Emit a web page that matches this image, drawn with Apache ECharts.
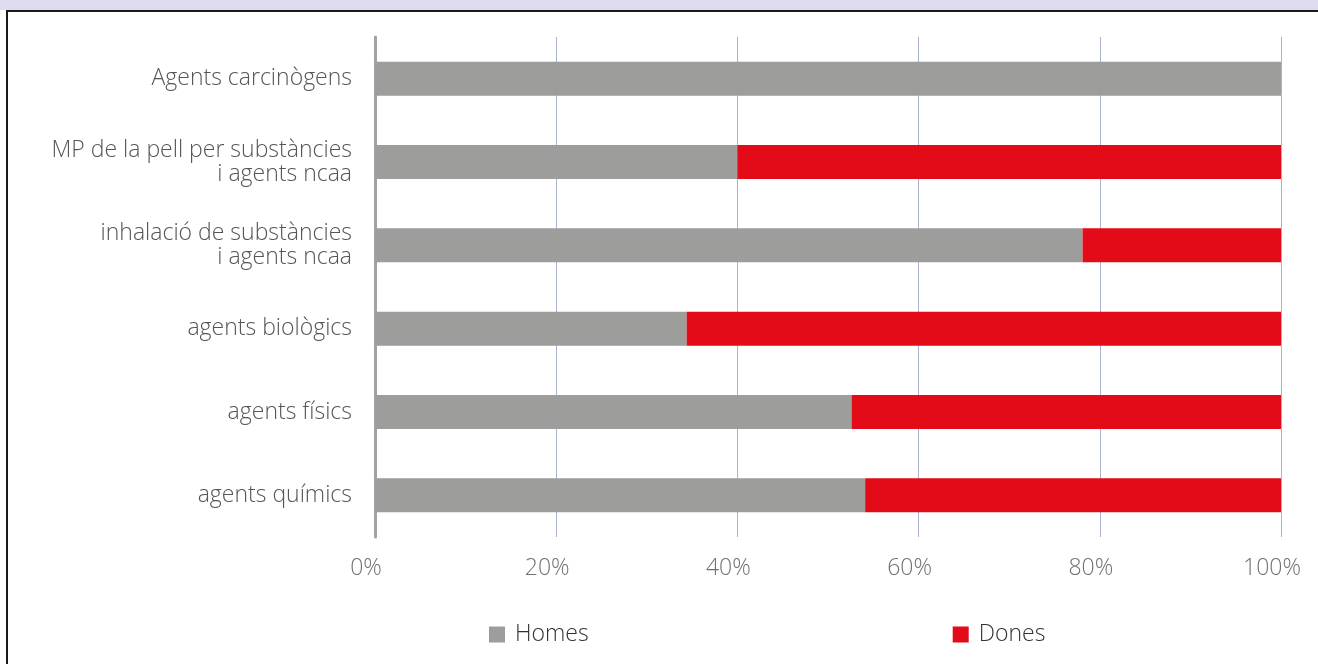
<!DOCTYPE html>
<html>
<head>
<meta charset="utf-8">
<script src="https://cdn.jsdelivr.net/npm/echarts@6/dist/echarts.min.js"></script>
<style>
  html, body { margin: 0; padding: 0; background: #ffffff; }
  #band { position: absolute; left: 0; top: 0; width: 1318px; height: 10px; background: #dedcee; }
  #frame { position: absolute; left: 6px; top: 10px; width: 1330px; height: 670px;
           border-left: 2px solid #1a1a1a; border-top: 2px solid #1a1a1a; box-sizing: border-box; }
  #chart { position: absolute; left: 0; top: 0; width: 1318px; height: 664px; }
</style>
</head>
<body>
<div id="band"></div>
<div id="frame"></div>
<div id="chart"></div>
<script>
// Occupational disease groups, listed bottom to top as the y axis draws them
const categories = [
  'agents químics',
  'agents físics',
  'agents biològics',
  'inhalació de substàncies\ni agents ncaa',
  'MP de la pell per substàncies\ni agents ncaa',
  'Agents carcinògens'
];
// Share of men and women per group (%)
const homes = [54.1, 52.6, 34.4, 78.1, 40.0, 100];
const dones = [45.9, 47.4, 65.6, 21.9, 60.0, 0];
const tickLabels = ['0%', '20%', '40%', '60%', '80%', '100%'];

const FONT = '"Open Sans", "Liberation Sans", sans-serif';
const chart = echarts.init(document.getElementById('chart'), null, { renderer: 'canvas' });

chart.setOption({
  animation: false,
  backgroundColor: 'transparent',
  grid: { left: 375, right: 37, top: 37, bottom: 127, containLabel: false },
  xAxis: {
    type: 'value', min: 0, max: 100, interval: 20,
    axisLine: { show: false },
    axisTick: { show: false },
    splitLine: { show: true, lineStyle: { color: '#a9b3cf', width: 1 } },
    axisLabel: {
      margin: 20, color: '#707070', fontSize: 23, fontFamily: FONT, fontWeight: 300,
      padding: [0, 18, 0, 0],
      formatter: v => tickLabels[Math.round(v / 20)]
    }
  },
  yAxis: {
    type: 'category', data: categories,
    axisLine: { show: true, lineStyle: { color: '#a3a3a3', width: 3 } },
    axisTick: { show: false },
    axisLabel: {
      margin: 23, color: '#555555', fontSize: 23, fontFamily: FONT, fontWeight: 300,
      lineHeight: 24, align: 'right'
    }
  },
  legend: {
    top: 618, left: 484, itemGap: 364,
    itemWidth: 16, itemHeight: 16, icon: 'rect',
    textStyle: { color: '#333333', fontSize: 23, fontFamily: FONT, fontWeight: 300, padding: [0, 0, 0, 5] },
    data: ['Homes', 'Dones']
  },
  series: [
    {
      name: 'Homes', type: 'bar', stack: 'total', data: homes,
      barWidth: 34, itemStyle: { color: '#9d9d9c' }
    },
    {
      name: 'Dones', type: 'bar', stack: 'total', data: dones,
      barWidth: 34, itemStyle: { color: '#e30b17' }
    }
  ]
});
</script>
</body>
</html>
